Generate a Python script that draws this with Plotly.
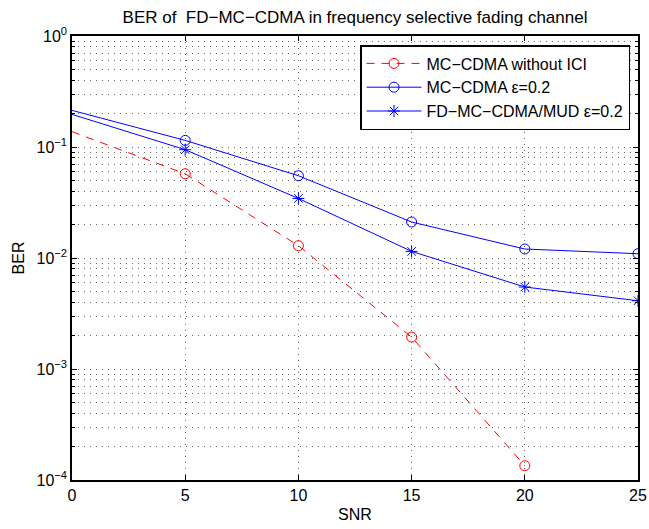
import plotly.graph_objects as go

snr = [0, 5, 10, 15, 20, 25]
ber_no_ici = [0.1374, 0.0574, 0.0129, 0.00194, 1.345e-4]
ber_mc = [0.2138, 0.1147, 0.0551, 0.0211, 0.01205, 0.01093]
ber_fd = [0.1967, 0.0946, 0.0344, 0.01147, 0.00548, 0.00412]

names = ["MC\u2212CDMA without ICI", "MC\u2212CDMA \u03b5=0.2", "FD\u2212MC\u2212CDMA/MUD \u03b5=0.2"]
x_ticks = [0, 5, 10, 15, 20, 25]
y_major = [1e-4, 1e-3, 1e-2, 1e-1, 1e0]
y_major_text = ["10<sup>\u22124</sup>", "10<sup>\u22123</sup>", "10<sup>\u22122</sup>", "10<sup>\u22121</sup>", "10<sup>0</sup>"]
y_minor = [k * d for d in [1e-4, 1e-3, 1e-2, 1e-1] for k in range(2, 10)]

RED = "#ff0000"
BLUE = "#0000ff"
FONT = "Liberation Sans, Arial, Helvetica, sans-serif"
FS = 16

fig = go.Figure()

series = [
    (ber_no_ici, RED, "circle-open", "8px,7px", names[0]),
    (ber_mc, BLUE, "circle-open", "solid", names[1]),
    (ber_fd, BLUE, "asterisk-open", "solid", names[2]),
]
for i, (vals, col, sym, dash, nm) in enumerate(series):
    xs = snr[:len(vals)]
    # first segment (no marker at x=0)
    fig.add_trace(go.Scatter(x=xs[:2], y=vals[:2], mode="lines",
                             line=dict(color=col, width=1, dash=dash),
                             showlegend=False, hoverinfo="skip", legendgroup=nm))
    fig.add_trace(go.Scatter(x=xs[1:], y=vals[1:], mode="lines+markers", name=nm,
                             legendgroup=nm,
                             line=dict(color=col, width=1, dash=dash),
                             marker=dict(symbol=sym, size=10, color=col,
                                         line=dict(color=col, width=1))))

grid_col = "rgba(0,0,0,0.6)"
grid_dash = "1px,5px"

fig.update_layout(
    width=649, height=529,
    margin=dict(l=72, r=11, t=36, b=49),
    paper_bgcolor="white", plot_bgcolor="white",
    font=dict(family=FONT, size=FS, color="black"),
    title=dict(text="BER of  FD\u2212MC\u2212CDMA in frequency selective fading channel",
               x=0.5 * (72 + 638) / 649, xanchor="center", y=1 - 17 / 529, yanchor="middle",
               font=dict(size=17, family=FONT, color="black")),
    legend=dict(x=(630 - 72) / 566, xanchor="right", y=(480 - 45) / 444, yanchor="top",
                bgcolor="white", bordercolor="black", borderwidth=1.5,
                font=dict(size=16, family=FONT, color="black"),
                itemwidth=55, tracegroupgap=0),
)
fig.update_xaxes(
    range=[0, 25], tickvals=x_ticks, ticks="inside", ticklen=5, tickcolor="black",
    showline=True, linecolor="black", linewidth=1.5, mirror="ticks",
    showgrid=True, gridcolor=grid_col, griddash=grid_dash, gridwidth=1,
    zeroline=False, automargin=False,
    title=dict(text="SNR", standoff=6, font=dict(size=FS, family=FONT)),
    tickfont=dict(size=FS, family=FONT),
)
fig.update_yaxes(
    type="log", range=[-4, 0], tickvals=y_major, ticktext=y_major_text,
    ticks="inside", ticklen=5, tickcolor="black",
    showline=True, linecolor="black", linewidth=1.5, mirror="ticks",
    showgrid=True, gridcolor=grid_col, griddash=grid_dash, gridwidth=1,
    zeroline=False, automargin=False,
    minor=dict(tickmode="array", tickvals=y_minor, ticks="inside", ticklen=3,
               tickcolor="black", showgrid=True, gridcolor=grid_col,
               griddash=grid_dash, gridwidth=1),
    title=dict(text="BER", standoff=8, font=dict(size=FS, family=FONT)),
    tickfont=dict(size=FS, family=FONT),
)

fig.write_html("out.html", config={"displayModeBar": False},
               post_script="document.body.style.margin='0';document.body.style.overflow='hidden';")
